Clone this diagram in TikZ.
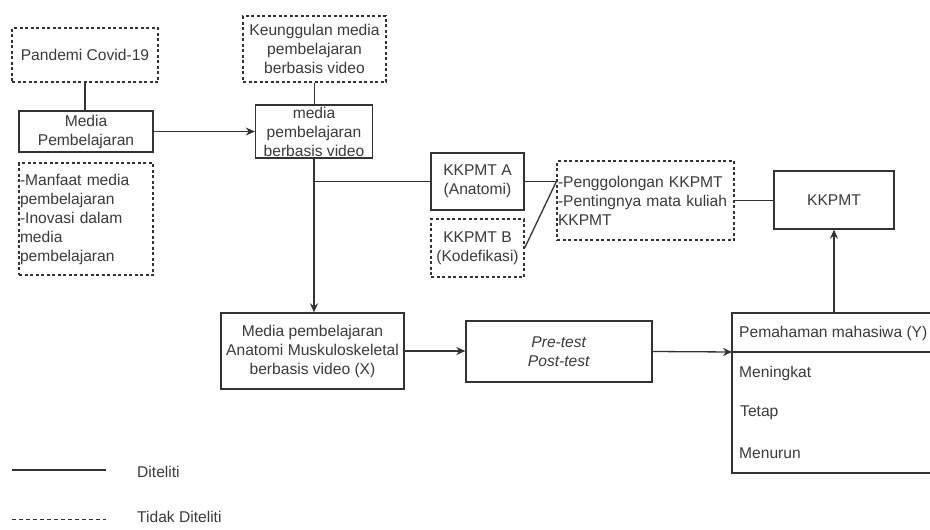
\documentclass[tikz,border=0pt]{standalone}
\usepackage{fontspec}
\setmainfont{Liberation Sans}
\usetikzlibrary{arrows.meta}
\definecolor{lc}{HTML}{333333}
\definecolor{tc}{HTML}{3A3A3A}
\begin{document}
\begin{tikzpicture}[x=1pt,y=-1pt,
  every node/.style={font=\fontsize{15.6}{19}\selectfont, text=tc, inner sep=0pt},
  solidbox/.style={draw=lc, line width=1.3pt, rectangle, align=center},
  dashbox/.style={draw=lc, line width=1.3pt, rectangle, align=center, dash pattern=on 3pt off 2.5pt},
  conn/.style={draw=lc, line width=1.3pt},
  arr/.style={conn, -{Stealth[length=9pt,width=8pt]}},
  lbl/.style={anchor=west, align=left}
]
\useasboundingbox (0,0) rectangle (930,530);

% nodes
\node[dashbox, minimum width=146pt, minimum height=54pt] (pand) at (85,55) {Pandemi Covid-19};
\node[solidbox, minimum width=134pt, minimum height=41pt] (mp) at (86,131.5) {Media\\Pembelajaran};
\node[dashbox, align=left, text width=132pt, inner xsep=1pt, minimum height=112pt] (manf) at (86,219)
  {-Manfaat media\\pembelajaran\\-Inovasi dalam\\media\\pembelajaran};
\node[dashbox, minimum width=143pt, minimum height=66pt] (keu) at (314.5,49) {Keunggulan media\\pembelajaran\\berbasis video};
\node[solidbox, minimum width=117pt, minimum height=53pt] (mv) at (314,131.5) {media\\pembelajaran\\berbasis video};
\node[solidbox, minimum width=93pt, minimum height=57pt] (ka) at (477.5,181.5) {KKPMT A\\(Anatomi)};
\node[dashbox, minimum width=93pt, minimum height=58pt] (kb) at (477.5,248) {KKPMT B\\(Kodefikasi)};
\node[dashbox, align=left, text width=175pt, inner xsep=1pt, minimum height=79pt] (peng) at (645.5,200.5)
  {-Penggolongan KKPMT\\-Pentingnya mata kuliah\\KKPMT};
\node[solidbox, minimum width=120pt, minimum height=58pt] (kk) at (834,200) {KKPMT};
\node[solidbox, minimum width=183pt, minimum height=76pt] (anat) at (312.5,351) {Media pembelajaran\\Anatomi Muskuloskeletal\\berbasis video (X)};
\node[solidbox, minimum width=186pt, minimum height=61pt] (pre) at (559,351.5) {\textit{Pre-test}\\\textit{Post-test}};

% Pemahaman box (runs past the right edge)
\coordinate (ptr) at (930,313);
\coordinate (ptl) at (732,313);
\coordinate (pbl) at (732,473);
\coordinate (pbr) at (930,473);
\coordinate (divl) at (732,352);
\coordinate (divr) at (930,352);
\draw[conn] (ptr) -- (ptl) -- (pbl) -- (pbr);
\draw[conn] (divl) -- (divr);
\node[lbl] (pemh) at (739,333) {Pemahaman mahasiwa (Y)};
\node[lbl] (pem1) at (739,373) {Meningkat};
\node[lbl] (pem2) at (740,413) {Tetap};
\node[lbl] (pem3) at (739,453) {Menurun};

% connectors
\draw[conn] (pand.south) -- (pand.south |- mp.north);
\draw[arr] (mp.east) -- (mv.west);
\draw[conn] (keu.south) -- (keu.south |- mv.north);
\draw[arr] (mv.south) -- (mv.south |- anat.north);
\coordinate (br) at (mv.south |- ka.west);
\draw[conn] (br) -- (ka.west);
\coordinate (pj) at (peng.west |- ka.east);
\draw[conn] (ka.east) -- (pj);
\draw[conn] (kb.east) -- (pj);
\draw[conn] (peng.east) -- (kk.west |- peng.east);
\draw[arr] (anat.east) -- (anat.east -| pre.west);
\draw[arr] (pre.east) -- (divl);
\coordinate (pemtop) at (kk.south |- ptl);
\draw[arr] (pemtop) -- (kk.south);

% legend
\coordinate (l1a) at (12,470);
\coordinate (l1b) at (106,470);
\coordinate (l2a) at (12,519);
\coordinate (l2b) at (106,519);
\draw[conn] (l1a) -- (l1b);
\draw[conn, line width=1pt, dash pattern=on 4pt off 3pt] (l2a) -- (l2b);
\node[lbl] (leg1) at (137,472) {Diteliti};
\node[lbl] (leg2) at (137,517) {Tidak Diteliti};
\end{tikzpicture}
\end{document}
